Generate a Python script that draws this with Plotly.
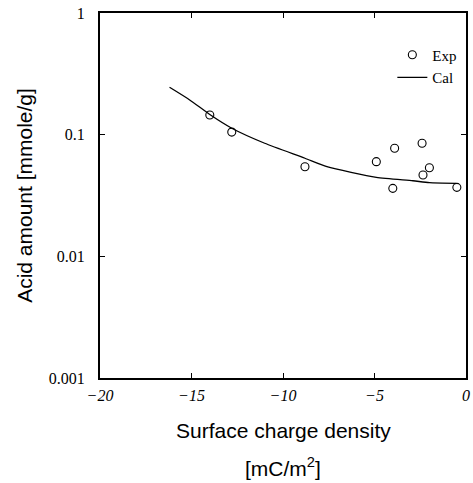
import plotly.graph_objects as go

# Experimental points
exp_x = [-14.0, -12.8, -8.8, -4.9, -3.9, -4.0, -2.4, -2.0, -2.35, -0.5]
exp_y = [0.145, 0.105, 0.0545, 0.060, 0.0773, 0.0362, 0.0849, 0.0535, 0.0466, 0.0369]

# Calculated curve
cal_x = [-16.2, -15.1, -13.96, -12.8, -11.0, -8.8, -7.6, -4.9, -2.9, -2.0, -0.54]
cal_y = [0.245, 0.193, 0.145, 0.113, 0.085, 0.064, 0.0545, 0.0446, 0.0418, 0.0403, 0.0398]

x_ticks = [-20, -15, -10, -5, 0]
x_ticktext = ["\u221220", "\u221215", "\u221210", "\u22125", "0"]
y_ticks = [0.001, 0.01, 0.1, 1]
y_ticktext = ["0.001", "0.01", "0.1", "1"]

fig = go.Figure()
fig.add_trace(go.Scatter(
    x=exp_x, y=exp_y, mode="markers", name="Exp",
    marker=dict(symbol="circle-open", size=8, color="black", line=dict(width=1.1)),
))
fig.add_trace(go.Scatter(
    x=cal_x, y=cal_y, mode="lines", name="Cal",
    line=dict(color="black", width=1.3, shape="spline", smoothing=0.6),
))

fig.update_layout(
    width=473, height=483,
    margin=dict(l=100, r=3, t=13, b=105),
    paper_bgcolor="white", plot_bgcolor="white",
    showlegend=True,
    legend=dict(x=0.99, y=0.93, xanchor="right", yanchor="top",
                font=dict(family="Liberation Serif", size=15, color="black"),
                bgcolor="rgba(0,0,0,0)", itemwidth=30, tracegroupgap=6),
    xaxis=dict(
        range=[-20, 0], tickvals=x_ticks, ticktext=x_ticktext,
        ticks="inside", ticklen=5, tickcolor="black",
        showline=True, linecolor="black", linewidth=2, mirror="ticks",
        showgrid=False, zeroline=False,
        tickfont=dict(family="Liberation Serif", size=16, color="black", style="italic"),
        ticklabelstandoff=2,
    ),
    yaxis=dict(
        type="log", range=[-3, 0], tickvals=y_ticks, ticktext=y_ticktext,
        ticks="inside", ticklen=5, tickcolor="black",
        showline=True, linecolor="black", linewidth=2, mirror="ticks",
        showgrid=False, zeroline=False,
        tickfont=dict(family="Liberation Serif", size=16, color="black"),
        ticklabelstandoff=10,
        title=dict(text="Acid amount [mmole/g]",
                   font=dict(family="Liberation Sans", size=21, color="black"),
                   standoff=10),
    ),
    annotations=[
        dict(text="Surface charge density", xref="paper", yref="paper",
             x=0.5, y=-0.145, xanchor="center", yanchor="middle", showarrow=False,
             font=dict(family="Liberation Sans", size=21, color="black")),
        dict(text="[mC/m<sup>2</sup>]", xref="paper", yref="paper",
             x=0.5, y=-0.245, xanchor="center", yanchor="middle", showarrow=False,
             font=dict(family="Liberation Sans", size=21, color="black")),
    ],
)

fig.write_html("out.html")
